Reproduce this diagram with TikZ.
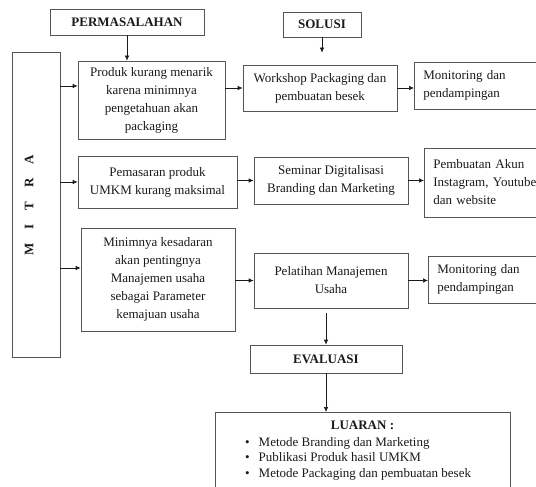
\documentclass[tikz,border=0pt]{standalone}
\usepackage{fontspec}
\setmainfont{Liberation Serif}
\usetikzlibrary{arrows.meta,positioning}
\definecolor{inkline}{HTML}{1A1A1A}
\definecolor{boxedge}{HTML}{555555}

\begin{document}
\begin{tikzpicture}[
  x=1pt, y=-1pt,
  font=\fontsize{13}{18}\selectfont,
  >={Latex[length=5pt,width=4.5pt]},
  box/.style={draw=boxedge, line width=0.7pt, fill=white, align=center,
              inner sep=3pt, text=inkline},
  sidebox/.style={draw=boxedge, line width=0.7pt, fill=white, align=left,
              anchor=west, inner xsep=9pt, inner ysep=3pt, text width=125pt, text=inkline},
  hdr/.style={box, font=\fontsize{13}{15}\selectfont\bfseries},
  arr/.style={->, draw=inkline, line width=0.7pt},
]
\useasboundingbox (0,0) rectangle (536,487);
\clip (0,0) rectangle (536,487);

% ---- headers ----
\node[hdr, minimum width=154pt, minimum height=26pt] (perm) at (127,22)  {PERMASALAHAN};
\node[hdr, minimum width=78pt, minimum height=25pt]  (sol)  at (322,24.5) {SOLUSI};

% ---- mitra column ----
\node[box, minimum width=48pt, minimum height=305pt] (mitra) at (36,204.5) {};
\node[font=\fontsize{13}{15}\selectfont\bfseries, rotate=90, text=inkline] (mitratxt) at (29,205)
  {M\hspace{14pt}I\hspace{14pt}T\hspace{14pt}R\hspace{14pt}A};

% ---- row 1 ----
\node[box, minimum width=147pt, minimum height=78pt] (prod) at (151.5,100)
  {Produk kurang menarik\\ karena minimnya\\ pengetahuan akan\\ packaging};
\node[box, minimum width=154pt, minimum height=46pt] (work) at (320,88)
  {Workshop Packaging dan\\ pembuatan besek};
\node[sidebox, minimum height=47pt] (mon1) at (414,85.5) {Monitoring dan\\ pendampingan};

% ---- row 2 ----
\node[box, minimum width=159pt, minimum height=52pt] (pem) at (157.5,182)
  {Pemasaran produk\\ UMKM kurang maksimal};
\node[box, minimum width=154pt, minimum height=47pt] (sem) at (331,180.5)
  {Seminar Digitalisasi\\ Branding dan Marketing};
\node[sidebox, minimum height=69pt] (akun) at (424,182.5)
  {Pembuatan Akun\\ Instagram, Youtube\\ dan website};

% ---- row 3 ----
\node[box, minimum width=154pt, minimum height=103pt] (mini) at (158,279.5)
  {Minimnya kesadaran\\ akan pentingnya\\ Manajemen usaha\\ sebagai Parameter\\ kemajuan usaha};
\node[box, minimum width=154pt, minimum height=55pt] (pel) at (331,280.5)
  {Pelatihan Manajemen\\ Usaha};
\node[sidebox, minimum height=47pt] (mon2) at (428,279.5) {Monitoring dan\\ pendampingan};

% ---- evaluasi + luaran ----
\node[hdr, minimum width=152pt, minimum height=28pt] (eval) at (326,359) {EVALUASI};
\node[box, anchor=north, minimum width=295pt, minimum height=95pt] (luar) at (362.5,412) {};
\node[font=\fontsize{13}{15}\selectfont\bfseries, text=inkline] (luartl) at (362.5,425) {LUARAN :};
\node[anchor=north west, inner sep=0pt, text=inkline, align=left] (luarls) at (245,435)
  {\fontsize{13}{15.5}\selectfont
   \begin{tabular}{@{}l@{\hspace{9pt}}l@{}}
   \textbullet & Metode Branding dan Marketing\\
   \textbullet & Publikasi Produk hasil UMKM\\
   \textbullet & Metode Packaging dan pembuatan besek
   \end{tabular}};

% ---- arrows ----
\draw[arr] (perm.south) -- (perm.south |- prod.north);
\draw[arr, shorten >=12pt] (sol.south) -- (sol.south |- work.north);
\draw[arr] (mitra.east |- 0,86) -- (prod.west |- 0,86);
\draw[arr] (prod.east |- work.west) -- (work.west);
\draw[arr] (work.east) -- (mon1.west |- work.east);
\draw[arr] (mitra.east |- pem.west) -- (pem.west);
\draw[arr] (pem.east |- sem.west) -- (sem.west);
\draw[arr] (sem.east) -- (akun.west |- sem.east);
\draw[arr] (mitra.east |- 0,268) -- (mini.west |- 0,268);
\draw[arr] (mini.east |- pel.west) -- (pel.west);
\draw[arr] (pel.east) -- (mon2.west |- pel.east);
\draw[arr, shorten <=5pt] (eval.north |- pel.south) -- (eval.north);
\draw[arr] (eval.south) -- (eval.south |- luar.north);

\end{tikzpicture}
\end{document}
